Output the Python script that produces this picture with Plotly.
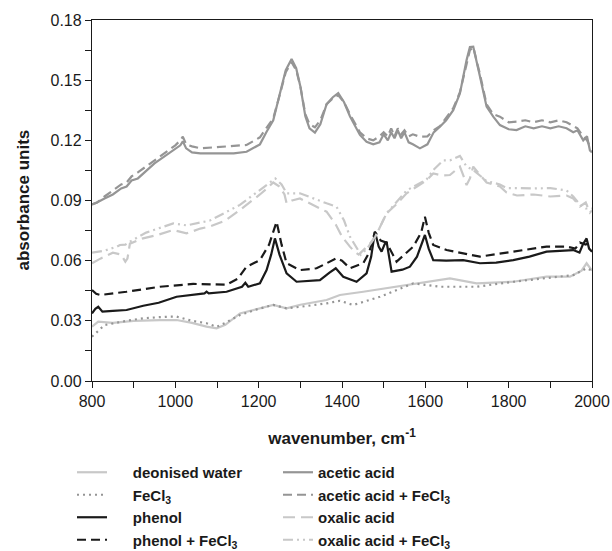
import plotly.graph_objects as go

# ---------------- data ----------------
AC_W = [800, 812, 830, 850, 870, 883, 895, 910, 950, 1000, 1012, 1018, 1026, 1040, 1060, 1100, 1140, 1171, 1203, 1219, 1235, 1251, 1265, 1279, 1290, 1300, 1312, 1322, 1335, 1348, 1363, 1378, 1391, 1405, 1419, 1443, 1459, 1475, 1490, 1500, 1510, 1518, 1526, 1534, 1542, 1550, 1560, 1570, 1587, 1605, 1620, 1635, 1650, 1667, 1683, 1699, 1707, 1715, 1723, 1731, 1747, 1763, 1779, 1800, 1819, 1840, 1860, 1880, 1900, 1920, 1939, 1955, 1965, 1979, 1988, 1995, 2000]
ACETIC = [0.088, 0.089, 0.091, 0.093, 0.096, 0.097, 0.100, 0.101, 0.1085, 0.116, 0.1175, 0.1195, 0.116, 0.114, 0.1135, 0.1135, 0.1135, 0.1143, 0.118, 0.1243, 0.130, 0.1434, 0.155, 0.1605, 0.156, 0.147, 0.132, 0.126, 0.1238, 0.128, 0.138, 0.1415, 0.1435, 0.139, 0.132, 0.1227, 0.1193, 0.118, 0.119, 0.123, 0.120, 0.124, 0.121, 0.125, 0.121, 0.124, 0.119, 0.118, 0.116, 0.118, 0.124, 0.1268, 0.130, 0.135, 0.1434, 0.160, 0.1665, 0.1667, 0.160, 0.152, 0.1368, 0.1318, 0.1276, 0.1255, 0.1251, 0.127, 0.126, 0.127, 0.126, 0.127, 0.126, 0.124, 0.125, 0.120, 0.122, 0.115, 0.114]
ACETIC_FE = [0.088, 0.089, 0.092, 0.095, 0.098, 0.099, 0.102, 0.104, 0.110, 0.1175, 0.120, 0.1218, 0.118, 0.117, 0.116, 0.1165, 0.117, 0.1177, 0.1215, 0.126, 0.131, 0.143, 0.154, 0.159, 0.155, 0.147, 0.133, 0.128, 0.1265, 0.130, 0.138, 0.141, 0.1425, 0.139, 0.133, 0.124, 0.121, 0.120, 0.122, 0.124, 0.122, 0.126, 0.122, 0.126, 0.123, 0.125, 0.122, 0.123, 0.1218, 0.122, 0.125, 0.127, 0.131, 0.136, 0.144, 0.159, 0.165, 0.1665, 0.160, 0.153, 0.138, 0.133, 0.1318, 0.129, 0.1293, 0.130, 0.129, 0.130, 0.129, 0.130, 0.129, 0.127, 0.126, 0.122, 0.120, 0.117, 0.116]

OX_W = [800, 820, 850, 870, 880, 885, 891, 920, 960, 995, 1027, 1060, 1083, 1120, 1155, 1185, 1203, 1220, 1235, 1250, 1262, 1267, 1280, 1299, 1330, 1363, 1385, 1400, 1419, 1430, 1440, 1451, 1465, 1480, 1495, 1507, 1530, 1555, 1580, 1603, 1619, 1640, 1659, 1683, 1692, 1699, 1707, 1715, 1730, 1747, 1779, 1795, 1820, 1860, 1900, 1939, 1955, 1971, 1985, 1995, 2000]
OXALIC = [0.0587, 0.061, 0.064, 0.063, 0.0595, 0.061, 0.0685, 0.071, 0.073, 0.0753, 0.0736, 0.076, 0.077, 0.080, 0.0853, 0.090, 0.093, 0.096, 0.099, 0.097, 0.093, 0.0886, 0.090, 0.091, 0.088, 0.0844, 0.078, 0.072, 0.067, 0.0645, 0.063, 0.065, 0.068, 0.072, 0.078, 0.0836, 0.088, 0.0936, 0.097, 0.100, 0.1035, 0.1025, 0.1027, 0.1069, 0.102, 0.0977, 0.101, 0.1069, 0.103, 0.099, 0.097, 0.094, 0.0925, 0.093, 0.092, 0.0925, 0.091, 0.087, 0.089, 0.084, 0.085]

OF_W = [800, 830, 860, 867, 880, 891, 930, 995, 1027, 1083, 1155, 1203, 1240, 1255, 1267, 1299, 1330, 1363, 1387, 1405, 1419, 1435, 1445, 1460, 1480, 1507, 1555, 1603, 1619, 1643, 1659, 1683, 1699, 1715, 1747, 1779, 1795, 1820, 1860, 1900, 1939, 1955, 1971, 1985, 2000]
OXALIC_FE = [0.064, 0.065, 0.067, 0.0678, 0.068, 0.0695, 0.074, 0.0786, 0.0776, 0.080, 0.0878, 0.0952, 0.101, 0.098, 0.0936, 0.0936, 0.091, 0.0886, 0.0869, 0.080, 0.072, 0.066, 0.063, 0.066, 0.072, 0.0836, 0.095, 0.1005, 0.1052, 0.110, 0.110, 0.1122, 0.1069, 0.1052, 0.0997, 0.098, 0.0962, 0.0962, 0.096, 0.0962, 0.095, 0.092, 0.088, 0.086, 0.086]

PH_W = [800, 808, 815, 825, 850, 883, 923, 960, 1003, 1040, 1070, 1075, 1080, 1123, 1160, 1168, 1175, 1203, 1219, 1230, 1239, 1250, 1267, 1291, 1320, 1347, 1370, 1385, 1403, 1435, 1459, 1470, 1479, 1488, 1495, 1502, 1507, 1519, 1545, 1563, 1580, 1592, 1599, 1608, 1619, 1650, 1691, 1731, 1770, 1811, 1850, 1891, 1930, 1955, 1970, 1978, 1987, 1993, 2000]
PHENOL = [0.0337, 0.036, 0.037, 0.0346, 0.035, 0.0354, 0.0375, 0.039, 0.042, 0.043, 0.0437, 0.0445, 0.0437, 0.0445, 0.047, 0.049, 0.047, 0.0487, 0.0553, 0.063, 0.0711, 0.063, 0.0537, 0.0495, 0.050, 0.0503, 0.054, 0.0562, 0.052, 0.0495, 0.0537, 0.062, 0.0744, 0.067, 0.0645, 0.068, 0.0695, 0.0545, 0.0555, 0.057, 0.062, 0.069, 0.0728, 0.066, 0.0603, 0.060, 0.0603, 0.0587, 0.059, 0.0603, 0.062, 0.0645, 0.065, 0.0653, 0.064, 0.068, 0.0711, 0.066, 0.0645]

PF_W = [800, 810, 820, 883, 963, 1043, 1123, 1150, 1171, 1203, 1225, 1243, 1255, 1267, 1299, 1339, 1387, 1400, 1419, 1451, 1465, 1479, 1493, 1507, 1531, 1571, 1590, 1599, 1608, 1619, 1651, 1731, 1811, 1891, 1940, 1960, 1971, 1985, 2000]
PHENOL_FE = [0.0454, 0.0435, 0.0429, 0.0445, 0.047, 0.0484, 0.048, 0.051, 0.057, 0.0603, 0.068, 0.0794, 0.068, 0.0587, 0.0553, 0.0562, 0.0612, 0.060, 0.0562, 0.0587, 0.064, 0.0744, 0.070, 0.069, 0.0595, 0.067, 0.074, 0.0819, 0.074, 0.0678, 0.0653, 0.062, 0.0645, 0.067, 0.067, 0.066, 0.069, 0.068, 0.070]

WA_W = [800, 815, 850, 900, 963, 1003, 1040, 1075, 1099, 1120, 1155, 1200, 1235, 1267, 1300, 1363, 1395, 1451, 1531, 1611, 1659, 1723, 1811, 1891, 1947, 1975, 1987, 2000]
WATER = [0.0271, 0.0296, 0.029, 0.030, 0.0304, 0.0304, 0.029, 0.0271, 0.0263, 0.028, 0.0337, 0.036, 0.0379, 0.0362, 0.038, 0.0404, 0.0429, 0.0445, 0.047, 0.0495, 0.0512, 0.0487, 0.0495, 0.052, 0.052, 0.055, 0.0587, 0.055]

FE_W = [800, 830, 883, 923, 975, 1003, 1040, 1075, 1099, 1120, 1155, 1200, 1235, 1267, 1300, 1363, 1395, 1427, 1491, 1571, 1635, 1723, 1811, 1891, 1955, 1987, 2000]
FECL3 = [0.0221, 0.0279, 0.030, 0.0313, 0.032, 0.0321, 0.030, 0.0288, 0.027, 0.029, 0.0329, 0.036, 0.0379, 0.0362, 0.037, 0.0387, 0.040, 0.0379, 0.042, 0.0487, 0.047, 0.047, 0.0495, 0.0512, 0.0528, 0.0562, 0.055]

X_TICKS = [800, 1000, 1200, 1400, 1600, 1800, 2000]
Y_TICKS = [0.00, 0.03, 0.06, 0.09, 0.12, 0.15, 0.18]
Y_TITLE = "absorbance units"
X_TITLE = "wavenumber, cm<sup>-1</sup>"

# ---------------- figure ----------------
FONT = "Liberation Sans, Arial, sans-serif"
DARK_GRAY = "#959595"
LIGHT_GRAY = "#c8c8c8"
BLACK = "#1a1a1a"
PAD = "\u00a0" * 5

series = [
    # left legend column
    (WA_W, WATER, PAD + "deonised water", LIGHT_GRAY, "solid", "legend"),
    (FE_W, FECL3, PAD + "FeCl<sub>3</sub>", DARK_GRAY, "2px,4px", "legend"),
    (PH_W, PHENOL, PAD + "phenol", BLACK, "solid", "legend"),
    (PF_W, PHENOL_FE, PAD + "phenol + FeCl<sub>3</sub>", BLACK, "9px,5px", "legend"),
    # right legend column
    (AC_W, ACETIC, "acetic acid", DARK_GRAY, "solid", "legend2"),
    (AC_W, ACETIC_FE, "acetic acid + FeCl<sub>3</sub>", DARK_GRAY, "9px,5px", "legend2"),
    (OX_W, OXALIC, "oxalic acid", LIGHT_GRAY, "12px,6px", "legend2"),
    (OF_W, OXALIC_FE, "oxalic acid + FeCl<sub>3</sub>", LIGHT_GRAY, "10px,4px,2px,4px,2px,4px", "legend2"),
]

fig = go.Figure()
for xs, ys, name, color, dash, leg in series:
    fig.add_trace(go.Scatter(
        x=xs, y=ys, name=name, mode="lines", legend=leg,
        line=dict(color=color, width=2.2, dash=dash),
    ))

legend_common = dict(
    font=dict(family=FONT, size=15, color=BLACK, weight="bold"),
    bgcolor="rgba(0,0,0,0)", borderwidth=0,
    xref="container", yref="container",
    xanchor="left", yanchor="top",
    tracegroupgap=0, itemclick=False,
)

PLOT_L, PLOT_W = 92, 500

fig.update_layout(
    width=612, height=551,
    margin=dict(l=PLOT_L, r=20, t=20, b=170, autoexpand=False),
    paper_bgcolor="white", plot_bgcolor="white",
    font=dict(family=FONT, size=16, color=BLACK),
    showlegend=True,
    legend=dict(x=72/612, y=1 - 456/551, **legend_common),
    legend2=dict(x=278/612, y=1 - 456/551, **legend_common),
    xaxis=dict(
        range=[800, 2000], tickvals=X_TICKS, ticktext=[str(v) for v in X_TICKS],
        ticks="outside", ticklen=6, tickwidth=1, tickcolor=BLACK,
        minor=dict(ticks="outside", ticklen=6, tickwidth=1, tickcolor=BLACK, dtick=100, tick0=800),
        showline=True, linecolor=BLACK, linewidth=1.3, mirror=True,
        showgrid=False, zeroline=False,
        tickfont=dict(family=FONT, size=16, color=BLACK),
        title=dict(text=X_TITLE, font=dict(family=FONT, size=17, color=BLACK, weight="bold"), standoff=22),
    ),
    yaxis=dict(
        range=[0, 0.18], tickvals=Y_TICKS, ticktext=[f"{v:.2f}" for v in Y_TICKS],
        ticks="outside", ticklen=6, tickwidth=1, tickcolor=BLACK,
        minor=dict(ticks="outside", ticklen=6, tickwidth=1, tickcolor=BLACK, dtick=0.015, tick0=0),
        showline=True, linecolor=BLACK, linewidth=1.3, mirror=True,
        showgrid=False, zeroline=False,
        tickfont=dict(family=FONT, size=16, color=BLACK),
    ),
    annotations=[dict(
        text=Y_TITLE, textangle=-90, showarrow=False,
        xref="paper", yref="paper", x=(23 - PLOT_L) / PLOT_W, y=0.5,
        xanchor="center", yanchor="middle",
        font=dict(family=FONT, size=17, color=BLACK, weight="bold"),
    )],
)

fig.write_html("out.html", config={"displayModeBar": False},
               post_script="document.body.style.margin='0';")
